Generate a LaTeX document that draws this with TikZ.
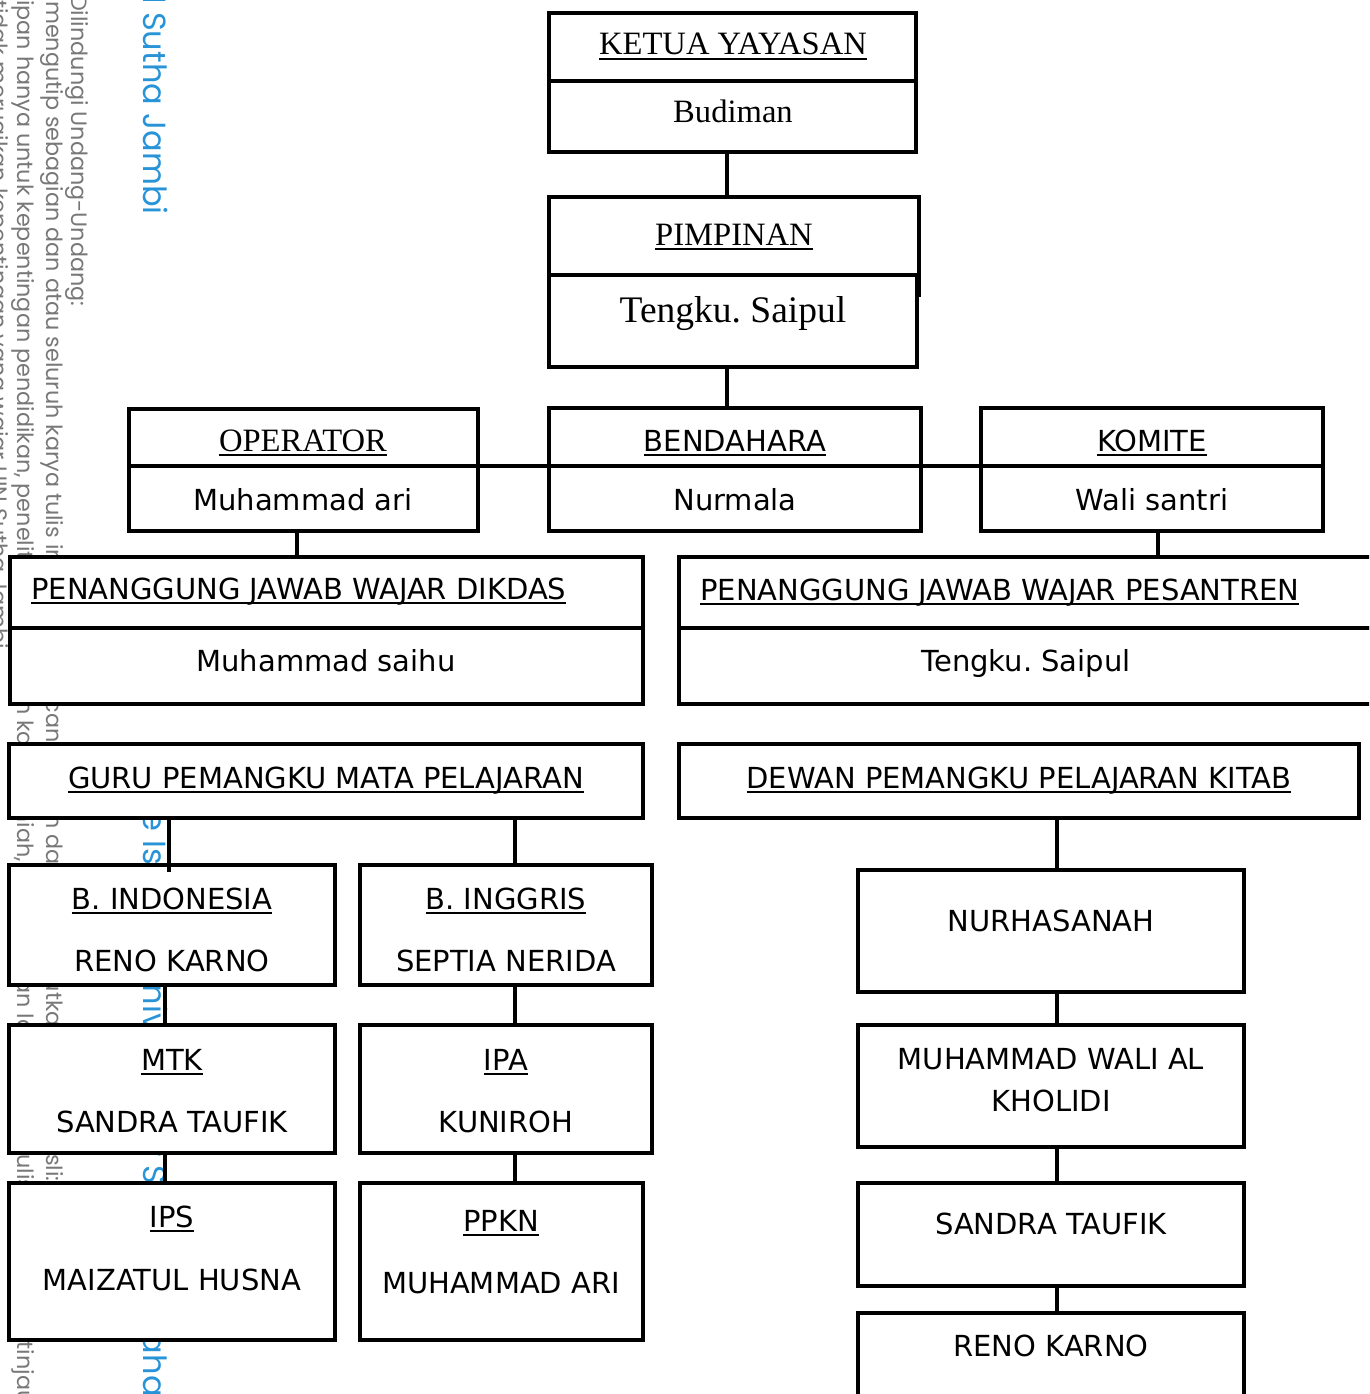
\documentclass[tikz,border=0pt]{standalone}
\usepackage{fontspec}
\setmainfont{Liberation Serif}
\newfontfamily\tah{DejaVu Sans}
\newfontfamily\wmf{Poppins}
\definecolor{wmgray}{RGB}{120,120,120}
\definecolor{wmblue}{RGB}{40,148,215}
\newcommand\myul[1]{\setbox0\hbox{#1}\rlap{\rule[-5.2pt]{\wd0}{2.4pt}}\box0}
\newcommand\bx[5]{\node[bxs, minimum width={#4-#2}, minimum height={#5-#3}] (#1) at ({(#2+#4)/2},{(#3+#5)/2}) {};}
\tikzset{
  bxs/.style={draw, line width=3.6pt, fill=white, inner sep=0pt, outer sep=0pt, rectangle},
  ln/.style={line width=3.6pt},
  ss/.style={font=\tah\fontsize{29}{34}\selectfont, inner sep=0pt, anchor=base},
  sf/.style={font=\fontsize{32.6}{38}\selectfont, inner sep=0pt, anchor=base},
  wmg/.style={rotate=-90, inner sep=0pt, anchor=base west, text=wmgray, font=\wmf\fontsize{22.3}{26}\selectfont},
  wmb/.style={rotate=-90, inner sep=0pt, anchor=base west, text=wmblue, font=\wmf\fontsize{32}{38}\selectfont}
}
\begin{document}
\frenchspacing
\begin{tikzpicture}[x=1pt,y=-1pt]
\useasboundingbox (0,0) rectangle (1369,1394);
\begin{scope}
\clip (0,0) rectangle (1369,1394);
% watermark
\node[wmg] (w1) at (71,-5) {Dilindungi Undang-Undang:};
\node[wmg] (w2) at (46,1) {mengutip sebagian dan atau seluruh karya tulis ini tanpa mencantumkan dan menyebutkan sumber asli:};
\node[wmg] (w3) at (17,0) {ipan hanya untuk kepentingan pendidikan, penelitian, penulisan karya ilmiah, penyusunan laporan, penulisan kritik atau tinjauan suatu masalah.};
\node[wmg] (w4) at (-9,0) {tidak merugikan kepentingan yang wajar UIN Sutha Jambi.};
\node[wmb, anchor=base east] (w5) at (143,4) {UIN};
\node[wmb] (w6) at (143,12) {Sutha Jambi};
\node[wmb] (w7) at (143,748) {State Islamic University of Sulthan Thaha Saifuddin Jambi};
% boxes
\bx{kt}{549}{13}{916}{81}
\bx{kb}{549}{81}{916}{152}
\bx{pt}{549}{197}{919}{275}
\bx{pb}{549}{275}{917}{367}
\bx{ot}{129}{409}{478}{466}
\bx{ob}{129}{466}{478}{531}
\bx{bt}{549}{408}{921}{466}
\bx{bb}{549}{466}{921}{531}
\bx{kmt}{981}{408}{1323}{466}
\bx{kmb}{981}{466}{1323}{531}
\bx{dt}{10}{557}{643}{628}
\bx{db}{10}{628}{643}{704}
\bx{st}{679}{557}{1390}{628}
\bx{sb}{679}{628}{1390}{704}
\bx{guru}{9}{744}{643}{818}
\bx{dewan}{679}{744}{1359}{818}
\bx{bindo}{9}{865}{335}{985}
\bx{bing}{360}{865}{652}{985}
\bx{mtk}{9}{1025}{335}{1153}
\bx{ipa}{360}{1025}{652}{1153}
\bx{ips}{9}{1183}{335}{1340}
\bx{ppkn}{360}{1183}{643}{1340}
\bx{nur}{858}{870}{1244}{992}
\bx{wali}{858}{1025}{1244}{1147}
\bx{sandra}{858}{1183}{1244}{1286}
\bx{reno}{858}{1313}{1244}{1430}
% connector x positions
\coordinate (c727) at (727,0);
\coordinate (c297) at (297,0);
\coordinate (c1158) at (1158,0);
\coordinate (c169) at (169,0);
\coordinate (c165) at (165,0);
\coordinate (c515) at (515,0);
\coordinate (c1057) at (1057,0);
\coordinate (stubend) at (919,297);
% connectors
\draw[ln] (pt.south east) -- (stubend);
\draw[ln] (kb.south -| c727) -- (pt.north -| c727);
\draw[ln] (pb.south -| c727) -- (bt.north -| c727);
\draw[ln] (ot.south east) -- (bt.south west);
\draw[ln] (bt.south east) -- (kmt.south west);
\draw[ln] (ob.south -| c297) -- (dt.north -| c297);
\draw[ln] (kmb.south -| c1158) -- (st.north -| c1158);
\draw[ln] (guru.south -| c169) -- ([yshift=-7pt]bindo.north -| c169);
\draw[ln] (guru.south -| c515) -- (bing.north -| c515);
\draw[ln] (bindo.south -| c165) -- (mtk.north -| c165);
\draw[ln] (mtk.south -| c165) -- (ips.north -| c165);
\draw[ln] (bing.south -| c515) -- (ipa.north -| c515);
\draw[ln] (ipa.south -| c515) -- (ppkn.north -| c515);
\draw[ln] (dewan.south -| c1057) -- (nur.north -| c1057);
\draw[ln] (nur.south -| c1057) -- (wali.north -| c1057);
\draw[ln] (wali.south -| c1057) -- (sandra.north -| c1057);
\draw[ln] (sandra.south -| c1057) -- (reno.north -| c1057);
% texts
\node[sf] (tk) at (733,55) {\myul{KETUA YAYASAN}};
\node[sf] (tb) at (733,123) {Budiman};
\node[sf] (tp) at (734,245) {\myul{PIMPINAN}};
\node[sf, font=\fontsize{37.5}{44}\selectfont] (tt) at (733,322) {Tengku. Saipul};
\node[sf] (top) at (303,451) {\myul{OPERATOR}};
\node[ss] (tma) at (303,510) {Muhammad ari};
\node[ss] (tbe) at (735,451) {\myul{BENDAHARA}};
\node[ss] (tnu) at (735,510) {Nurmala};
\node[ss] (tko) at (1152,451) {\myul{KOMITE}};
\node[ss] (twa) at (1152,510) {Wali santri};
\node[ss, anchor=base west] (tdi) at (31,599) {\myul{PENANGGUNG JAWAB WAJAR DIKDAS}};
\node[ss] (tms) at (326,671) {Muhammad saihu};
\node[ss, anchor=base west] (tpe) at (700,600) {\myul{PENANGGUNG JAWAB WAJAR PESANTREN}};
\node[ss] (tts) at (1026,671) {Tengku. Saipul};
\node[ss] (tgu) at (326,788) {\myul{GURU PEMANGKU MATA PELAJARAN}};
\node[ss] (tde) at (1019,788) {\myul{DEWAN PEMANGKU PELAJARAN KITAB}};
\node[ss] (t1a) at (172,909) {\myul{B. INDONESIA}};
\node[ss] (t1b) at (172,971) {RENO KARNO};
\node[ss] (t2a) at (506,909) {\myul{B. INGGRIS}};
\node[ss] (t2b) at (506,971) {SEPTIA NERIDA};
\node[ss] (t3a) at (172,1070) {\myul{MTK}};
\node[ss] (t3b) at (172,1132) {SANDRA TAUFIK};
\node[ss] (t4a) at (506,1070) {\myul{IPA}};
\node[ss] (t4b) at (506,1132) {KUNIROH};
\node[ss] (t5a) at (172,1227) {\myul{IPS}};
\node[ss] (t5b) at (172,1290) {MAIZATUL HUSNA};
\node[ss] (t6a) at (501,1231) {\myul{PPKN}};
\node[ss] (t6b) at (501,1293) {MUHAMMAD ARI};
\node[ss] (tr1) at (1051,931) {NURHASANAH};
\node[ss] (tr2a) at (1051,1069) {MUHAMMAD WALI AL};
\node[ss] (tr2b) at (1051,1111) {KHOLIDI};
\node[ss] (tr3) at (1051,1234) {SANDRA TAUFIK};
\node[ss] (tr4) at (1051,1356) {RENO KARNO};
\end{scope}
\end{tikzpicture}
\end{document}
